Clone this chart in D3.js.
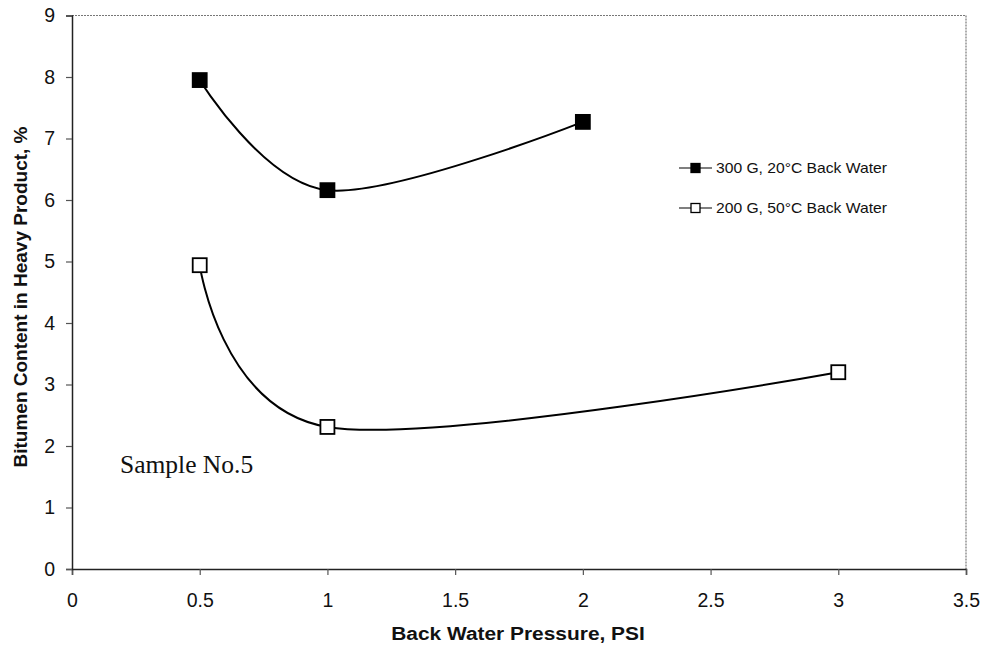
<!DOCTYPE html>
<html>
<head>
<meta charset="utf-8">
<script src="https://cdn.jsdelivr.net/npm/d3@7"></script>
<style>
  body { margin: 0; background: #fff; }
  svg { display: block; }
</style>
</head>
<body>
<svg id="chart" width="988" height="650"></svg>
<script>
// Back water pressure (PSI) and bitumen content (%) for each run
const pressure300G = [0.5, 1, 2];
const bitumen300G = [7.95, 6.16, 7.27];
const pressure200G = [0.5, 1, 3];
const bitumen200G = [4.94, 2.31, 3.20];

const seriesNames = ["300 G, 20°C Back Water", "200 G, 50°C Back Water"];
const xTicks = [0, 0.5, 1, 1.5, 2, 2.5, 3, 3.5];
const yTicks = [0, 1, 2, 3, 4, 5, 6, 7, 8, 9];

const SANS = "Arial, 'Liberation Sans', sans-serif";
const SERIF = "'Times New Roman', 'Liberation Serif', serif";

const svg = d3.select("#chart");
const plotLeft = 72, plotRight = 966, plotTop = 15.5, plotBottom = 569;

const x = d3.scaleLinear().domain([0, 3.5]).range([plotLeft, plotRight]);
const y = d3.scaleLinear().domain([0, 9]).range([plotBottom, plotTop]);

// Plot-area frame: dotted grey on top and right
svg.append("path")
  .attr("d", `M${plotLeft},${plotTop}H${plotRight}V${plotBottom}`)
  .attr("fill", "none")
  .attr("stroke", "#777")
  .attr("stroke-width", 1.2)
  .attr("stroke-dasharray", "2,1");

// Axes
const xAxis = svg.append("g")
  .attr("transform", `translate(0,${plotBottom})`)
  .call(d3.axisBottom(x).tickValues(xTicks).tickFormat(d3.format("")).tickSizeOuter(0).tickSize(6).tickPadding(18));
const yAxis = svg.append("g")
  .attr("transform", `translate(${plotLeft},0)`)
  .call(d3.axisLeft(y).tickValues(yTicks).tickSizeOuter(0).tickSize(6).tickPadding(11));

[xAxis, yAxis].forEach(g => {
  g.select(".domain").attr("stroke", "#222").attr("stroke-width", 1.5);
  g.selectAll(".tick line").attr("stroke", "#555").attr("stroke-width", 1.2);
  g.selectAll(".tick text")
    .attr("fill", "#111")
    .style("font-family", SANS)
    .style("font-size", "19.5px");
});

// Axis titles
svg.append("text")
  .attr("transform", "translate(518,640) scale(1.1,1)")
  .attr("text-anchor", "middle")
  .style("font-family", SANS)
  .style("font-size", "19px")
  .style("font-weight", "bold")
  .attr("fill", "#111")
  .text("Back Water Pressure, PSI");

svg.append("text")
  .attr("transform", "translate(27,297) rotate(-90)")
  .attr("text-anchor", "middle")
  .style("font-family", SANS)
  .style("font-size", "19px")
  .style("font-weight", "bold")
  .attr("fill", "#111")
  .text("Bitumen Content in Heavy Product, %");

// Smoothed series lines (uniform Catmull-Rom spline through the points)
const line = d3.line()
  .x(d => x(d[0]))
  .y(d => y(d[1]))
  .curve(d3.curveCatmullRom.alpha(0));

const series = [
  { name: seriesNames[0], pts: d3.zip(pressure300G, bitumen300G), fill: "#000" },
  { name: seriesNames[1], pts: d3.zip(pressure200G, bitumen200G), fill: "#fff" }
];

series.forEach(s => {
  svg.append("path")
    .datum(s.pts)
    .attr("d", line)
    .attr("fill", "none")
    .attr("stroke", "#000")
    .attr("stroke-width", 2);

  const m = 14;
  svg.append("g").selectAll("rect")
    .data(s.pts)
    .join("rect")
    .attr("x", d => x(d[0]) - m / 2)
    .attr("y", d => y(d[1]) - m / 2)
    .attr("width", m)
    .attr("height", m)
    .attr("fill", s.fill)
    .attr("stroke", "#000")
    .attr("stroke-width", 1.8);
});

// Legend
const legend = svg.append("g");
series.forEach((s, i) => {
  const ly = 168 + i * 40;
  legend.append("line")
    .attr("x1", 679).attr("x2", 712)
    .attr("y1", ly).attr("y2", ly)
    .attr("stroke", "#000").attr("stroke-width", 1.2);
  legend.append("rect")
    .attr("x", 691).attr("y", ly - 4.5)
    .attr("width", 9).attr("height", 9)
    .attr("fill", s.fill)
    .attr("stroke", "#000").attr("stroke-width", 1.3);
  legend.append("text")
    .attr("transform", `translate(716,${ly + 5}) scale(1.08,1)`)
    .style("font-family", SANS)
    .style("font-size", "14.5px")
    .attr("fill", "#111")
    .text(s.name);
});

// Sample annotation
svg.append("text")
  .attr("x", 120)
  .attr("y", 473)
  .style("font-family", SERIF)
  .style("font-size", "25.5px")
  .attr("fill", "#111")
  .text("Sample No.5");
</script>
</body>
</html>
